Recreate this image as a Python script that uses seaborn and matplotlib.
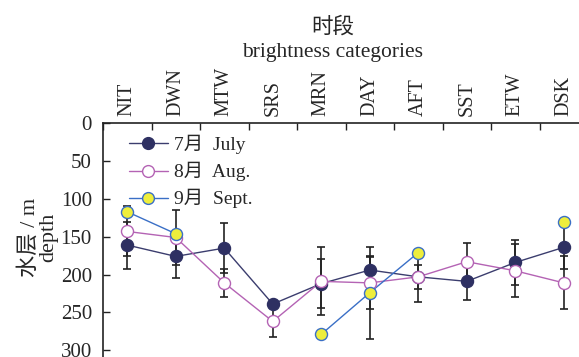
import numpy as np
import pandas as pd
import matplotlib
matplotlib.use("Agg")
import matplotlib.pyplot as plt
from matplotlib.lines import Line2D
import seaborn as sns

# brightness categories along the top axis
categories = ["NIT", "DWN", "MTW", "SRS", "MRN", "DAY", "AFT", "SST", "ETW", "DSK"]

# mean depth (m) per category, with standard deviations
july = [161, 176, 165, 239, 212, 194, 203, 209, 184, 164]
july_sd = [31, 28, 33, np.nan, 32, 17, 16, 24, 30, 29]

aug = [143, 151, 211, 262, 209, 211, 203, 183, 195, 211]
aug_sd = [33, 36, 19, 20, 45, 35, 33, 25, 35, 35]

sept = [117, 146, np.nan, np.nan, 279, 224, 171, np.nan, np.nan, 131]
sept_sd = [np.nan, np.nan, np.nan, np.nan, np.nan, 61, np.nan, np.nan, np.nan, np.nan]

legend_labels = ["7月  July", "8月  Aug.", "9月  Sept."]

sns.set_style("ticks")
plt.rcParams["font.family"] = ["Liberation Serif", "Noto Sans CJK SC"]

fig = plt.figure(figsize=(5.79, 3.57), dpi=100)
ax = fig.add_axes([103 / 579, 0.0, 1 - 103 / 579, 1 - 123.3 / 357])

pos = np.arange(len(categories)) + 0.5

styles = [
    dict(line="#3b3d6e", face="#2e3062", edge="#2e3062"),
    dict(line="#b463b4", face="white", edge="#b463b4"),
    dict(line="#3a6fc6", face="#eeee3c", edge="#3a6fc6"),
]
series = [(july, july_sd), (aug, aug_sd), (sept, sept_sd)]

frames = []
for name, (vals, sds) in zip(legend_labels, series):
    v = np.asarray(vals, dtype=float)
    # consecutive runs of valid values form separate line segments
    seg = np.cumsum(np.isnan(v))
    frames.append(pd.DataFrame({"x": pos, "depth": v, "sd": sds,
                                "seg": seg, "month": name}))
df = pd.concat(frames, ignore_index=True)

# error bars underneath
for name in legend_labels:
    sub = df[(df["month"] == name) & df["sd"].notna()]
    ax.errorbar(sub["x"], sub["depth"], yerr=sub["sd"], fmt="none",
                ecolor="#222222", elinewidth=1.2, capsize=3.2, capthick=1.2,
                zorder=1)

for name, st in zip(legend_labels, styles):
    sub = df[(df["month"] == name) & df["depth"].notna()]
    sns.lineplot(data=sub, x="x", y="depth", units="seg", estimator=None,
                 color=st["line"], linewidth=1.0, ax=ax, zorder=2,
                 legend=False)
    sns.scatterplot(data=sub, x="x", y="depth", color=st["face"],
                    edgecolor=st["edge"], linewidth=1.0, s=75, ax=ax,
                    zorder=3, legend=False)

ax.set_xlim(0, (579 - 103) / 48.5)
ax.set_ylim(309, 0)

ax.xaxis.tick_top()
ax.xaxis.set_label_position("top")
ax.set_xticks(np.arange(len(categories)))
ax.set_xticklabels([])
ax.set_xticks(pos, minor=True)
ax.set_xticklabels(categories, minor=True, rotation=90, fontsize=14.5)
ax.tick_params(axis="x", which="major", direction="in", length=5, width=1,
               top=True, bottom=False, color="#222222")
ax.tick_params(axis="x", which="minor", length=0, pad=5, top=True,
               bottom=False)

ax.set_yticks([0, 50, 100, 150, 200, 250, 300])
ax.tick_params(axis="y", direction="in", length=5, width=1, labelsize=15,
               pad=8, color="#222222")

for s in ["right", "bottom"]:
    ax.spines[s].set_visible(False)
for s in ["left", "top"]:
    ax.spines[s].set_linewidth(1.2)
    ax.spines[s].set_color("#222222")

ax.set_xlabel("时段\nbrightness categories", fontsize=15.5, linespacing=1.35)
ax.xaxis.set_label_coords(0.483, 1.285)
ax.set_ylabel("水层 / m\ndepth", fontsize=16, linespacing=0.9)
ax.yaxis.set_label_coords(-0.095, 0.51)

handles = [
    Line2D([], [], color=st["line"], lw=1.0, marker="o", markersize=8.5,
           markerfacecolor=st["face"], markeredgecolor=st["edge"])
    for st in styles
]
ax.legend(handles, legend_labels, loc="upper left", frameon=False,
          fontsize=14, bbox_to_anchor=(0.03, 1.0), handlelength=2.0,
          handletextpad=0.3, labelspacing=0.4, borderaxespad=0.2)

fig.savefig("out.png", dpi=100)
